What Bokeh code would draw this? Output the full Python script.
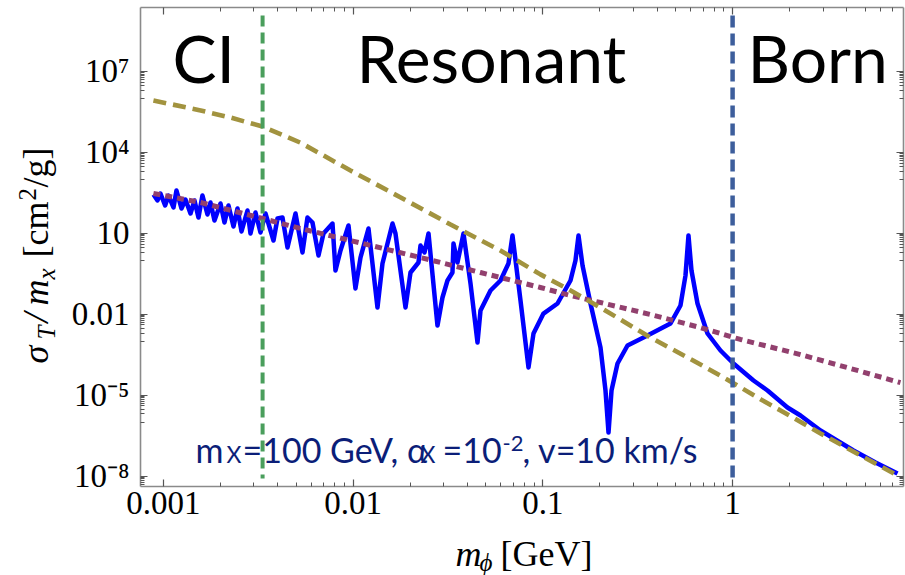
from bokeh.plotting import figure
from bokeh.models import Range1d, FixedTicker, LogAxis, Label
from bokeh.core.properties import value
from bokeh.embed import file_html
from bokeh.resources import INLINE
import math

# Mediator mass m_phi [GeV]
full_x = [8.86e-4, 9.30e-4, 9.64e-4, 1.02e-3, 1.063e-3, 1.129e-3, 1.171e-3, 1.244e-3,
          1.306e-3, 1.388e-3, 1.457e-3, 1.529e-3, 1.605e-3, 1.706e-3, 1.769e-3, 1.857e-3,
          1.998e-3, 2.097e-3, 2.201e-3, 2.339e-3, 2.455e-3, 2.578e-3, 2.772e-3, 2.875e-3,
          3.055e-3, 3.246e-3, 3.449e-3, 3.801e-3, 3.990e-3, 4.240e-3, 4.505e-3, 4.965e-3,
          5.404e-3, 5.741e-3, 6.101e-3, 6.563e-3, 6.973e-3, 7.779e-3, 8.067e-3, 8.573e-3,
          9.446e-3, 1.028e-2, 1.093e-2, 1.204e-2, 1.343e-2, 1.427e-2, 1.612e-2, 1.671e-2,
          1.887e-2, 2.005e-2, 2.209e-2, 2.264e-2, 2.376e-2, 2.495e-2, 2.782e-2, 2.956e-2,
          3.141e-2, 3.337e-2, 3.378e-2, 3.546e-2, 3.815e-2, 4.154e-2, 4.522e-2, 4.690e-2,
          5.295e-2, 5.978e-2, 6.586e-2, 6.914e-2, 7.620e-2, 8.398e-2, 8.922e-2, 0.1007,
          0.1194, 0.1398, 0.1485, 0.1541, 0.1618, 0.1782, 0.2012, 0.2138, 0.2218, 0.2300,
          0.2474, 0.2793, 0.3559, 0.4706, 0.5313, 0.5645, 0.5854, 0.6071, 0.6531, 0.7375,
          0.8635, 1.011, 1.289, 1.528, 1.947, 2.280, 2.906, 4.338, 5.666, 7.402]
# Full transfer cross section sigma_T / m_X [cm^2/g]
full_y = [275, 165, 299, 108, 252, 90.6, 387, 83.2,
          179, 54.3, 165, 38.6, 252, 49.9, 139, 29.9,
          128, 25.2, 108, 17.9, 83.2, 11.7, 70.2, 9.84,
          59.2, 10.7, 54.3, 5.42, 35.4, 38.6, 2.98, 54.3,
          1.95, 38.6, 25.2, 1.51, 9.84, 23.1, 0.418, 2.31,
          19.5, 0.0899, 1.27, 15.1, 0.0178, 0.760, 23.1, 9.84,
          0.0178, 0.352, 0.828, 3.53, 1.95, 9.84, 3.82e-3, 0.0417,
          0.178, 0.352, 4.20, 0.828, 9.84, 0.138, 8.95e-4, 0.0137,
          0.0759, 0.178, 0.760, 8.30, 0.0323, 1.06e-4, 1.93e-3, 0.0106,
          0.0250, 0.178, 0.982, 8.30, 0.641, 0.0250, 5.83e-4, 1.49e-5, 4.12e-7, 1.49e-5,
          1.49e-4, 6.93e-4, 1.63e-3, 4.53e-3, 0.0211, 0.273, 8.30, 0.418, 0.0250, 1.93e-3,
          4.52e-4, 1.49e-4, 3.49e-5, 1.49e-5, 3.48e-6, 1.76e-6, 4.89e-7, 8.85e-8, 3.18e-8, 1.24e-8]

# Born approximation
born_x = [8.85e-4, 1.57e-3, 2.25e-3, 3.33e-3, 5.27e-3, 9.68e-3, 1.78e-2, 3.26e-2, 5.97e-2,
          9.70e-2, 0.140, 0.201, 0.369, 0.677, 1.0, 1.41, 1.79, 2.91, 4.73, 7.41]
born_y = [8.4e5, 3.6e5, 1.97e5, 9.1e4, 2.3e4, 2.13e3, 213, 21.2, 2.3,
          0.30, 0.076, 0.0177, 1.37e-3, 1.37e-4, 2.9e-5, 6.9e-6, 2.7e-6, 3.8e-7, 5.8e-8, 1.05e-8]

# Classical regime fit
classical_x = [8.85e-4, 1.57e-3, 3.33e-3, 5.27e-3, 9.68e-3, 2.26e-2, 4.69e-2, 9.70e-2,
               0.140, 0.201, 0.369, 0.677, 1.10, 2.28, 4.19, 7.67]
classical_y = [299, 139, 35.4, 15.1, 5.4, 1.27, 0.352, 0.098,
               0.0494, 0.0272, 9.8e-3, 3.2e-3, 1.16e-3, 3.2e-4, 9.7e-5, 2.9e-5]

# Regime boundaries
cl_edge = 3.33e-3
born_edge = 1.0
edge_span = [1.19e9, 8.1e-9]

x_major = [1e-3, 1e-2, 1e-1, 1.0]
x_labels = ["0.001", "0.01", "0.1", "1"]
y_major = [1e-8, 1e-5, 1e-2, 1e1, 1e4, 1e7]
y_labels = ["10\u207b\u2078", "10\u207b\u2075", "0.01", "10", "10\u2074", "10\u2077"]

x_minor = [k * 10.0 ** d for d in range(-3, 1) for k in range(2, 10)]
y_minor = [k * m / 10.0 for m in y_major for k in range(1, 10)]

x_range = Range1d(7.566e-4, 7.96)
y_range = Range1d(4.10e-9, 2.36e9)

p = figure(width=905, height=575, x_axis_type="log", y_axis_type="log",
           x_range=x_range, y_range=y_range,
           output_backend="svg", toolbar_location=None,
           min_border_left=140, min_border_right=2, min_border_top=7, min_border_bottom=89)
p.outline_line_color = None
p.xgrid.grid_line_color = None
p.ygrid.grid_line_color = None
p.background_fill_color = "white"


def style_axis(ax, ticks, minor, labels, show):
    ax.ticker = FixedTicker(ticks=ticks, minor_ticks=minor)
    ax.axis_line_color = "#8a8a8a"
    ax.axis_line_width = 1.6
    ax.major_tick_line_color = "#555555"
    ax.minor_tick_line_color = "#555555"
    ax.major_tick_line_width = 1.2
    ax.minor_tick_line_width = 1.0
    ax.major_tick_in = 7
    ax.major_tick_out = 0
    ax.minor_tick_in = 4
    ax.minor_tick_out = 0
    ax.major_label_text_font = "Liberation Serif"
    ax.major_label_text_color = "black"
    if show:
        ax.major_label_overrides = dict(zip(ticks, labels))
        ax.major_label_text_font_size = "33px"
    else:
        ax.major_label_overrides = {t: "" for t in ticks}
        ax.major_label_text_font_size = "0px"
        ax.major_label_standoff = 0


style_axis(p.xaxis[0], x_major, x_minor, x_labels, True)
p.xaxis[0].major_label_standoff = 5
style_axis(p.yaxis[0], y_major, y_minor, y_labels, True)
p.yaxis[0].major_label_standoff = 11

top_axis = LogAxis()
style_axis(top_axis, x_major, x_minor, x_labels, False)
p.add_layout(top_axis, "above")
right_axis = LogAxis()
style_axis(right_axis, y_major, y_minor, y_labels, False)
p.add_layout(right_axis, "right")

# Curves
p.line(full_x, full_y, line_color="#0000ff", line_width=4.5, line_join="round")
p.line(classical_x, classical_y, line_color="#92406e", line_width=5, line_dash="7 5")
p.line(born_x, born_y, line_color="#a2933f", line_width=4.6, line_dash="13 7")
p.line([cl_edge, cl_edge], edge_span, line_color="#4a9e5c", line_width=4, line_dash="11 6")
p.line([born_edge, born_edge], edge_span, line_color="#3d5e9c", line_width=4.5, line_dash="12 6")

X0, Y0 = x_range.start, y_range.start


def put(text, dx, dy, size, font, color="black", style="normal"):
    # dy is the baseline height above the frame bottom, in pixels
    p.add_layout(Label(x=X0, y=Y0, x_offset=dx, y_offset=dy + 0.4 * size, text=text,
                       text_font=font, text_font_size=f"{size}px", text_font_style=style,
                       text_color=color, text_align="left", text_baseline="alphabetic"))


def title_text(text, x, y, size, style="normal", angle=0.0):
    p.text(x=[x], y=[y], text=[text], text_font=value("Liberation Serif"),
           text_font_size=value(f"{size}px"), text_font_style=value(style),
           text_color="black", angle=angle, text_align="left",
           text_baseline="alphabetic", level="overlay")


# Regime titles
put("CI", 32, 403, 66, "Lato")
put("Resonant", 216, 403, 66, "Lato")
put("Born", 607, 403, 66, "Lato")

# Parameter note
navy = "#0b1e78"
put("m", 55, 23, 34, "Lato", navy)
put("X", 86, 23, 23, "Lato", navy)
put("=100 GeV, \u03b1", 102, 23, 34, "Lato", navy)
put("X", 280, 23, 23, "Lato", navy)
put("=10", 302, 23, 34, "Lato", navy)
put("-2", 362, 34, 22, "Lato", navy)
put(", v=10 km/s", 382, 23, 34, "Lato", navy)

# x-axis title: m_phi [GeV]
title_text("m", 3.461e-2, 1.276e-11, 36, "italic")
title_text("\u03d5", 4.633e-2, 6.24e-12, 25, "italic")
title_text("[GeV]", 5.977e-2, 1.276e-11, 36)

# y-axis title: sigma_T / m_x [cm^2/g], reading upward
up = math.pi / 2
title_text("\u03c3", 2.130e-4, 1.489e-4, 36, "italic", up)
title_text("T", 2.416e-4, 1.156e-3, 25, "italic", up)
title_text("/", 2.130e-4, 4.93e-3, 36, "italic", up)
title_text("m", 2.130e-4, 2.109e-2, 36, "italic", up)
title_text("x", 2.416e-4, 0.194, 25, "italic", up)
title_text("[cm", 2.130e-4, 1.27, 36, "normal", up)
title_text("2", 1.919e-4, 164.8, 25, "normal", up)
title_text("/g]", 2.130e-4, 500.0, 36, "normal", up)

open("out.html", "w").write(file_html(p, INLINE))
